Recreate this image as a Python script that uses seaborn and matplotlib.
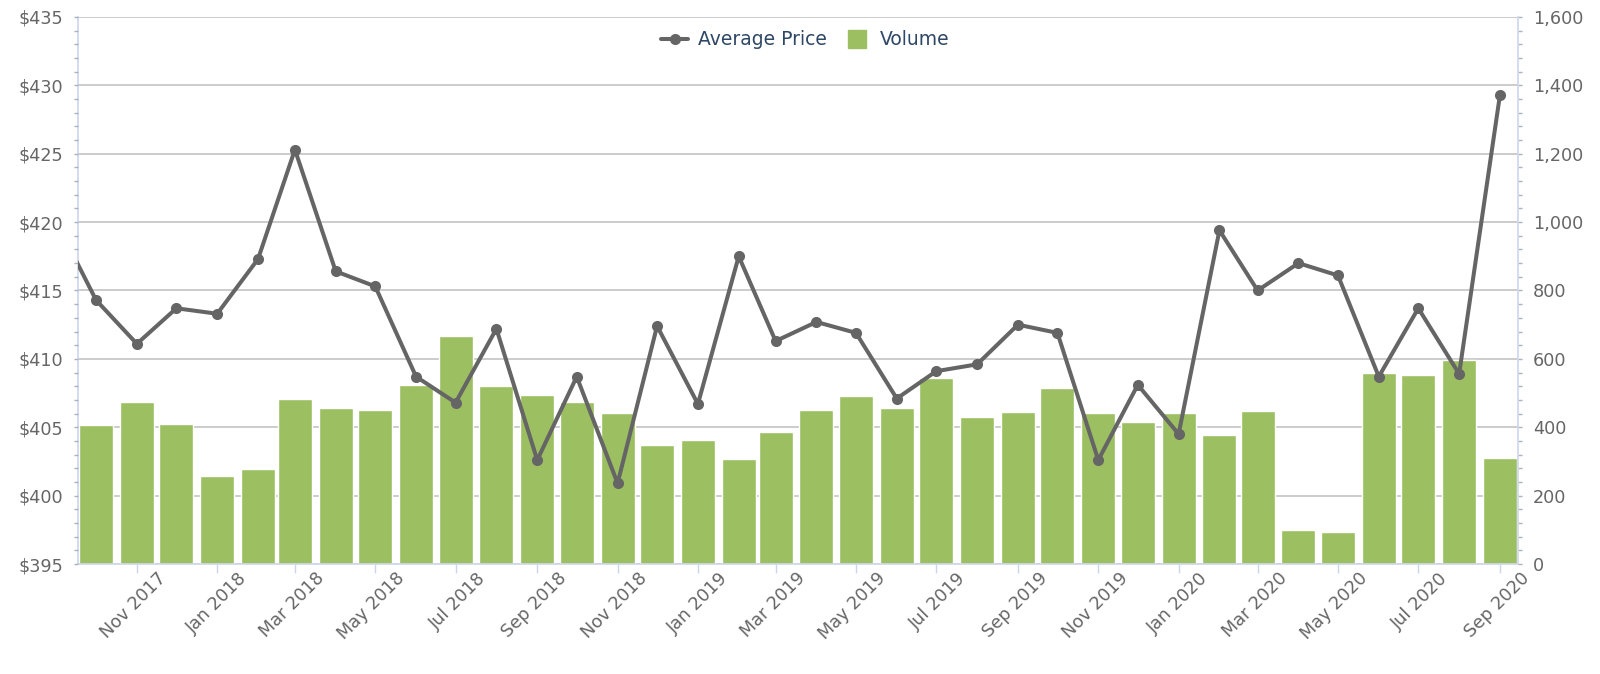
import matplotlib
matplotlib.use("Agg")
import matplotlib.pyplot as plt
import matplotlib.dates as mdates
import matplotlib.transforms as mtransforms
from matplotlib.ticker import MultipleLocator, FuncFormatter
from matplotlib.lines import Line2D
import seaborn as sns
import pandas as pd

# monthly series, Sep 2017 .. Sep 2020 (Sep 2017 price only, it sits just off the left edge)
months = pd.date_range("2017-09-01", "2020-09-01", freq="MS")
avg_price = [420.0, 414.3, 411.1, 413.7, 413.3, 417.3, 425.3, 416.4, 415.3, 408.7,
             406.8, 412.2, 402.6, 408.7, 400.9, 412.4, 406.7, 417.5, 411.3, 412.7,
             411.9, 407.1, 409.1, 409.6, 412.5, 411.9, 402.6, 408.1, 404.5, 419.4,
             415.0, 417.0, 416.1, 408.7, 413.7, 408.9, 429.3]
volume = [406, 475, 410, 257, 278, 484, 455, 450, 524, 667,
          520, 494, 475, 441, 347, 362, 307, 386, 450, 490,
          455, 544, 431, 445, 515, 441, 414, 442, 378, 447,
          100, 95, 559, 554, 598, 311]
tick_months = pd.date_range("2017-11-01", "2020-09-01", freq="2MS")

BAR_COLOR = "#9cbf62"
LINE_COLOR = "#656565"
AXIS_COLOR = "#ccd6eb"
TICK_COLOR = "#a9b2bf"
GRID_COLOR = "#c3c3c3"
LABEL_COLOR = "#666666"

sns.set_theme(style="white")
plt.rcParams["font.family"] = ["DejaVu Sans"]

price_df = pd.DataFrame({"x": mdates.date2num(months), "price": avg_price})
vol_df = pd.DataFrame({"x": mdates.date2num(months[1:]), "volume": volume})

fig = plt.figure(figsize=(16, 6.74), dpi=100)
ax = fig.add_axes([0.04875, 0.1632, 0.9, 0.8116])
ax2 = ax.twinx()

# volume bars on the base axes (right scale), price line on the twin so it draws on top
sns.barplot(data=vol_df, x="x", y="volume", native_scale=True, errorbar=None,
            color=BAR_COLOR, saturation=1, width=0.92, edgecolor="white",
            linewidth=1, ax=ax)
sns.lineplot(data=price_df, x="x", y="price", color=LINE_COLOR, linewidth=2.9,
             marker="o", markersize=8, markeredgewidth=0, ax=ax2)

x0 = mdates.date2num(pd.Timestamp("2017-10-01")) - 13.7
x1 = mdates.date2num(pd.Timestamp("2020-09-01")) + 13.7
ax.set_xlim(x0, x1)

ax.set_ylim(0, 1600)
ax2.set_ylim(395, 435)
ax.yaxis.set_major_locator(MultipleLocator(200))
ax.yaxis.set_minor_locator(MultipleLocator(40))
ax2.yaxis.set_major_locator(MultipleLocator(5))
ax2.yaxis.set_minor_locator(MultipleLocator(1))
ax.yaxis.set_major_formatter(FuncFormatter(lambda v, p: f"{int(v):,}"))
ax2.yaxis.set_major_formatter(FuncFormatter(lambda v, p: f"${int(v)}"))

ax.yaxis.tick_right()
ax2.yaxis.tick_left()
ax.set_xlabel("")
ax.set_ylabel("")
ax2.set_xlabel("")
ax2.set_ylabel("")

ax.set_axisbelow(True)
ax.grid(True, axis="y", color=GRID_COLOR, linewidth=1.2)
ax.grid(False, axis="x")
ax2.grid(False)

for side in ["left", "right", "bottom"]:
    ax.spines[side].set_visible(True)
    ax.spines[side].set_color(AXIS_COLOR)
    ax.spines[side].set_linewidth(1.2)
ax.spines["top"].set_visible(False)
for s in ax2.spines.values():
    s.set_visible(False)

ax.tick_params(axis="y", which="both", right=True, left=False, length=3.2,
               width=1, color=TICK_COLOR, labelsize=12.7, labelcolor=LABEL_COLOR,
               pad=7.5)
ax2.tick_params(axis="y", which="both", left=True, right=False, length=3.2,
                width=1, color=TICK_COLOR, labelsize=12.7, labelcolor=LABEL_COLOR,
                pad=7.5)

ax.set_xticks(mdates.date2num(tick_months))
ax.set_xticklabels([d.strftime("%b %Y") for d in tick_months])
ax.tick_params(axis="x", bottom=True, length=6.5, width=1, color=AXIS_COLOR,
               labelsize=12.7, labelcolor=LABEL_COLOR, pad=2.0)
shift = mtransforms.ScaledTranslation(0.27, 0, fig.dpi_scale_trans)
for lab in ax.get_xticklabels():
    lab.set_rotation(45)
    lab.set_ha("right")
    lab.set_va("center")
    lab.set_rotation_mode("anchor")
    lab.set_transform(lab.get_transform() + shift)

handles = [
    Line2D([], [], color=LINE_COLOR, linewidth=2.9, marker="o", markersize=8,
           markeredgewidth=0),
    Line2D([], [], linestyle="", marker="s", markersize=13, color=BAR_COLOR),
]
leg = ax2.legend(handles, ["Average Price", "Volume"], loc="center",
                 bbox_to_anchor=(0.505, 0.958), ncol=2, frameon=False,
                 fontsize=13.5, handlelength=1.45, handletextpad=0.5,
                 columnspacing=0.9)
for t in leg.get_texts():
    t.set_color("#2e4766")

fig.savefig("out.png", dpi=100)
